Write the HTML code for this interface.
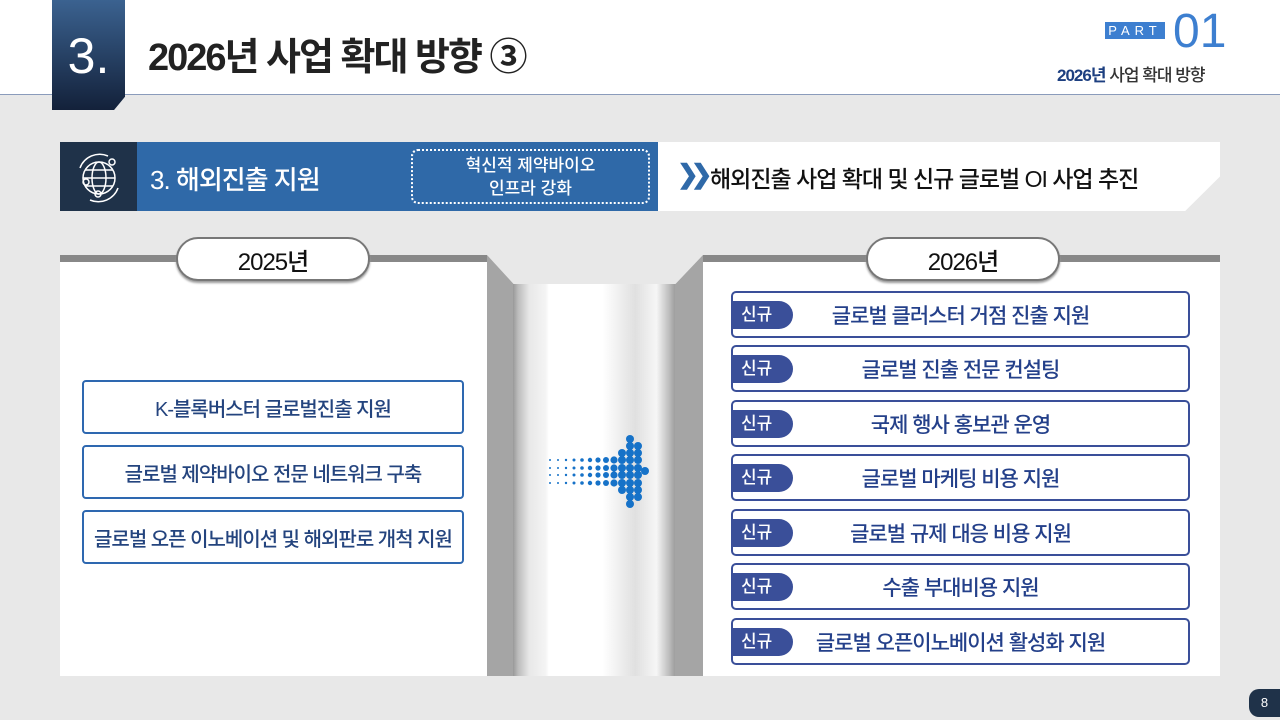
<!DOCTYPE html>
<html><head><meta charset="utf-8"><style>
*{margin:0;padding:0;box-sizing:border-box}
body{width:1280px;height:720px;position:relative;overflow:hidden;background:#e8e8e8;font-family:"Liberation Sans","Noto Sans CJK KR",sans-serif}
.a{position:absolute}
.lb{position:absolute;left:82px;width:382px;height:54px;border:2px solid #2e68b0;border-radius:4px;background:#fff;color:#24447e;font-size:20px;font-weight:500;display:flex;align-items:center;justify-content:center;letter-spacing:-1px}
.rb{position:absolute;left:731px;width:459px;height:47px;border:2px solid #3a4f99;border-radius:5px;background:#fff;color:#24408a;font-size:21px;font-weight:500;letter-spacing:-1px}
.rb .bd{position:absolute;left:0;top:8px;width:60px;height:28px;background:#3a4f99;border-radius:0 14px 14px 0;color:#fff;font-size:17px;line-height:28px;padding-left:8px;letter-spacing:0}
.rb .t{position:absolute;left:0;right:0;top:0;bottom:0;display:flex;align-items:center;justify-content:center}
.pill{position:absolute;top:237px;width:194px;height:44px;border:2px solid #777;border-radius:22px;background:#fff;font-size:24px;font-weight:500;display:flex;align-items:center;justify-content:center;box-shadow:0 2px 2px #999;color:#111;letter-spacing:-1px}
</style></head><body>
<div class="a" style="left:0;top:0;width:1280px;height:95px;background:#fff;border-bottom:1px solid #8a9bbb"></div>
<div class="a" style="left:52px;top:0;width:73px;height:110px;background:linear-gradient(#3b6290,#13213a);clip-path:polygon(0 0,100% 0,100% 88%,85% 100%,0 100%)"></div>
<div class="a" style="left:52px;top:28px;width:73px;text-align:center;color:#fff;font-size:50px;line-height:56px">3.</div>
<div class="a" style="left:148px;top:26px;font-size:38px;font-weight:bold;color:#222;letter-spacing:-2px">2026년 사업 확대 방향 ③</div>
<div class="a" style="left:1105px;top:22px;width:60px;height:17px;background:#3d7fd0;color:#fff;font-size:13px;letter-spacing:5px;text-align:center;line-height:17px">PART</div>
<div class="a" style="left:1173px;top:8px;font-size:48px;color:#3d7fd0;line-height:48px">01</div>
<div class="a" style="left:1057px;top:61px;font-size:17px;font-weight:500;color:#333;letter-spacing:-1px"><b style="color:#1d3f80">2026년</b> 사업 확대 방향</div>

<div class="a" style="left:60px;top:142px;width:1160px;height:69px;background:#fff;clip-path:polygon(0 0,100% 0,100% 50%,97% 100%,0 100%)"></div>
<div class="a" style="left:60px;top:142px;width:77px;height:69px;background:#1f3249"></div>
<svg class="a" style="left:70px;top:148px" width="58" height="58" viewBox="0 0 58 58" fill="none" stroke="#fff" stroke-width="1.5"><circle cx="29" cy="30" r="16"/><ellipse cx="29" cy="30" rx="7" ry="16"/><line x1="13" y1="30" x2="45" y2="30"/><line x1="15" y1="22" x2="43" y2="22"/><line x1="15" y1="38" x2="43" y2="38"/><path d="M10 20a21 21 0 0 1 28-12"/><path d="M48 40a21 21 0 0 1-28 12"/><circle cx="42" cy="14" r="3"/><circle cx="16" cy="34" r="3"/><circle cx="28" cy="46" r="3"/></svg>
<div class="a" style="left:137px;top:142px;width:521px;height:69px;background:#2f69a8"></div>
<div class="a" style="left:150px;top:160px;color:#fff;font-size:26px;font-weight:500;letter-spacing:-1px">3. 해외진출 지원</div>
<div class="a" style="left:411px;top:149px;width:239px;height:55px;border:2px dotted #fff;border-radius:7px;color:#fff;font-size:17px;font-weight:500;text-align:center;line-height:23px;padding-top:3px">혁신적 제약바이오<br>인프라 강화</div>
<div class="a" style="left:677px;top:159px;font-size:26px;color:#2f69a8;font-weight:bold;letter-spacing:-8px">❯❯</div>
<div class="a" style="left:710px;top:160px;font-size:23px;font-weight:500;color:#111;letter-spacing:-1px">해외진출 사업 확대 및 신규 글로벌 OI 사업 추진</div>

<div class="a" style="left:60px;top:255px;width:427px;height:421px;background:#fff;border-top:7px solid #888"></div>
<div class="a" style="left:487px;top:255px;width:27px;height:421px;background:#a5a5a5;clip-path:polygon(0 0,100% 7%,100% 100%,0 100%)"></div>
<div class="a" style="left:513px;top:284px;width:163px;height:392px;background:linear-gradient(90deg,#999 0,#bbb 3%,#e8e8e8 10%,#f4f4f4 20%,#fff 22%,#fff 55%,#e0e0e0 75%,#f6f6f6 88%,#bbb 96%,#999 100%)"></div>
<div class="a" style="left:675px;top:255px;width:28px;height:421px;background:#a5a5a5;clip-path:polygon(0 7%,100% 0,100% 100%,0 100%)"></div>
<div class="a" style="left:703px;top:255px;width:517px;height:421px;background:#fff;border-top:7px solid #888"></div>

<div class="pill" style="left:176px">2025년</div>
<div class="pill" style="left:866px">2026년</div>

<svg class="a" style="left:540px;top:432px" width="110" height="78" fill="#1672c8">
<circle cx="90" cy="7" r="4"/><circle cx="90" cy="14" r="4"/><circle cx="98" cy="14" r="4"/>
<circle cx="90" cy="72" r="4"/><circle cx="90" cy="65" r="4"/><circle cx="98" cy="65" r="4"/>
<circle cx="105" cy="39" r="4"/>
<circle cx="82" cy="21" r="4"/><circle cx="90" cy="21" r="4"/><circle cx="98" cy="21" r="4"/>
<circle cx="82" cy="58" r="4"/><circle cx="90" cy="58" r="4"/><circle cx="98" cy="58" r="4"/>
<circle cx="74" cy="28" r="3.6"/><circle cx="82" cy="28" r="4"/><circle cx="90" cy="28" r="4"/><circle cx="98" cy="28" r="4"/>
<circle cx="74" cy="36" r="3.6"/><circle cx="82" cy="36" r="4"/><circle cx="90" cy="36" r="4"/><circle cx="98" cy="36" r="4"/>
<circle cx="74" cy="43" r="3.6"/><circle cx="82" cy="43" r="4"/><circle cx="90" cy="43" r="4"/><circle cx="98" cy="43" r="4"/>
<circle cx="74" cy="51" r="3.6"/><circle cx="82" cy="51" r="4"/><circle cx="90" cy="51" r="4"/><circle cx="98" cy="51" r="4"/>
<circle cx="66" cy="28" r="3"/><circle cx="66" cy="36" r="3"/><circle cx="66" cy="43" r="3"/><circle cx="66" cy="51" r="3"/>
<circle cx="58" cy="28" r="2.6"/><circle cx="58" cy="36" r="2.6"/><circle cx="58" cy="43" r="2.6"/><circle cx="58" cy="51" r="2.6"/>
<circle cx="50" cy="28" r="2.2"/><circle cx="50" cy="36" r="2.2"/><circle cx="50" cy="43" r="2.2"/><circle cx="50" cy="51" r="2.2"/>
<circle cx="42" cy="28" r="1.8"/><circle cx="42" cy="36" r="1.8"/><circle cx="42" cy="43" r="1.8"/><circle cx="42" cy="51" r="1.8"/>
<circle cx="34" cy="28" r="1.5"/><circle cx="34" cy="36" r="1.5"/><circle cx="34" cy="43" r="1.5"/><circle cx="34" cy="51" r="1.5"/>
<circle cx="26" cy="28" r="1.2"/><circle cx="26" cy="36" r="1.2"/><circle cx="26" cy="43" r="1.2"/><circle cx="26" cy="51" r="1.2"/>
<circle cx="18" cy="28" r="1"/><circle cx="18" cy="36" r="1"/><circle cx="18" cy="43" r="1"/><circle cx="18" cy="51" r="1"/>
<circle cx="10" cy="28" r="1"/><circle cx="10" cy="36" r="1"/><circle cx="10" cy="43" r="1"/><circle cx="10" cy="51" r="1"/>
</svg>

<div class="lb" style="top:380px">K-블록버스터 글로벌진출 지원</div>
<div class="lb" style="top:445px">글로벌 제약바이오 전문 네트워크 구축</div>
<div class="lb" style="top:510px">글로벌 오픈 이노베이션 및 해외판로 개척 지원</div>

<div class="rb" style="top:291px"><div class="bd">신규</div><div class="t">글로벌 클러스터 거점 진출 지원</div></div>
<div class="rb" style="top:345px"><div class="bd">신규</div><div class="t">글로벌 진출 전문 컨설팅</div></div>
<div class="rb" style="top:400px"><div class="bd">신규</div><div class="t">국제 행사 홍보관 운영</div></div>
<div class="rb" style="top:454px"><div class="bd">신규</div><div class="t">글로벌 마케팅 비용 지원</div></div>
<div class="rb" style="top:509px"><div class="bd">신규</div><div class="t">글로벌 규제 대응 비용 지원</div></div>
<div class="rb" style="top:563px"><div class="bd">신규</div><div class="t">수출 부대비용 지원</div></div>
<div class="rb" style="top:618px"><div class="bd">신규</div><div class="t">글로벌 오픈이노베이션 활성화 지원</div></div>

<div class="a" style="left:1249px;top:689px;width:31px;height:28px;background:#1f3249;border-radius:10px 0 0 10px;color:#fff;font-size:13px;text-align:center;line-height:28px">8</div>
</body></html>
